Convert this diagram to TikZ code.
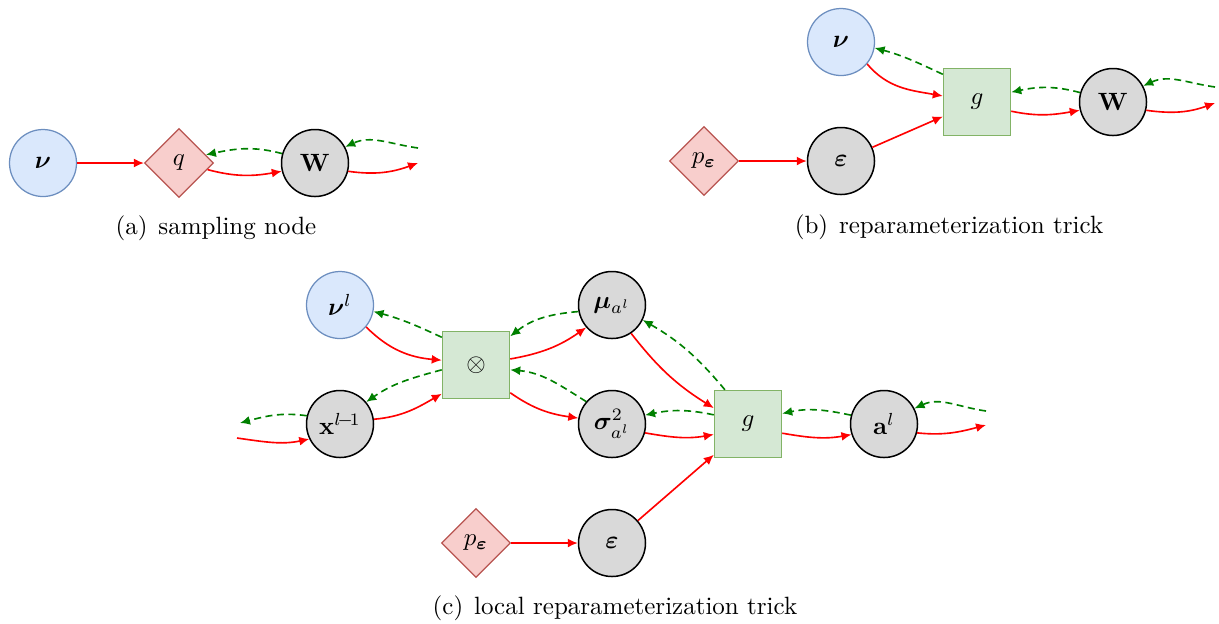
\documentclass[tikz,border=0pt]{standalone}
\usepackage{amsmath}
\usepackage{bm}
\usetikzlibrary{shapes.geometric,arrows.meta}
\definecolor{bfill}{HTML}{DAE8FC}
\definecolor{bdraw}{HTML}{6C8EBF}
\definecolor{rfill}{HTML}{F8CECC}
\definecolor{rdraw}{HTML}{B85450}
\definecolor{gfill}{HTML}{D5E8D4}
\definecolor{gdraw}{HTML}{82B366}
\definecolor{rvgrey}{HTML}{D9D9D9}
\definecolor{fwdred}{HTML}{FF0000}
\definecolor{bwdgreen}{HTML}{008000}
\begin{document}
\begin{tikzpicture}[x=0.4pt,y=0.4pt,
  param/.style={circle,draw=bdraw,fill=bfill,line width=0.5pt,minimum size=26.8pt,inner sep=0pt},
  rv/.style={circle,draw=black,fill=rvgrey,line width=0.6pt,minimum size=26.8pt,inner sep=0pt},
  dist/.style={diamond,aspect=1,draw=rdraw,fill=rfill,line width=0.5pt,minimum size=27.6pt,inner sep=0pt},
  op/.style={rectangle,draw=gdraw,fill=gfill,line width=0.6pt,minimum size=26.8pt,inner sep=0pt},
  fwd/.style={draw=fwdred,line width=0.65pt,-{Latex[length=4pt,width=3.6pt]}},
  bwd/.style={draw=bwdgreen,line width=0.65pt,dash pattern=on 2.8pt off 1.8pt,-{Latex[length=4pt,width=3.6pt]}},
  capt/.style={font=\normalsize}
]
\useasboundingbox (0,0) rectangle (1219,-623);

% ---------- (a) sampling node ----------
\node[param] (nu1) at (43,-163) {$\bm{\nu}$};
\node[dist]  (q1)  at (179,-163) {$q$};
\node[rv]    (W1)  at (315,-163) {$\mathbf{W}$};
\coordinate (fa1) at (418,-163);
\coordinate (fb1) at (418,-148);
\draw[fwd] (nu1) -- (q1);
\draw[fwd] (q1.-13) to[out=-15,in=190] (W1.194);
\draw[fwd] (W1.-14) to[out=-8,in=200] (fa1);
\draw[bwd] (W1.164) to[out=165,in=12] (q1.17);
\draw[bwd] (fb1) to[out=172,in=25] (W1.28);
\node[capt] (capa) at (216,-228) {(a)\ \kern1pt sampling node};

% ---------- (b) reparameterization trick ----------
\node[param] (nu2) at (841,-42) {$\bm{\nu}$};
\node[op]    (g2)  at (977,-102) {$g$};
\node[rv]    (W2)  at (1113,-102) {$\mathbf{W}$};
\node[dist]  (p2)  at (704,-161) {$p_{\bm{\varepsilon}}$};
\node[rv]    (e2)  at (841,-161) {$\bm{\varepsilon}$};
\coordinate (fa2) at (1215,-103);
\coordinate (fb2) at (1215,-87);
\draw[fwd] (p2) -- (e2);
\draw[fwd] (e2) -- (g2.203);
\draw[fwd] (nu2.-40) to[out=-50,in=170] (g2.170);
\draw[bwd] (g2.141) to[out=155,in=-15] (nu2.-10);
\draw[fwd] (g2.-15) to[out=-12,in=190] (W2.194);
\draw[bwd] (W2.164) to[out=165,in=12] (g2.16);
\draw[fwd] (W2.-14) to[out=-8,in=200] (fa2);
\draw[bwd] (fb2) to[out=172,in=25] (W2.28);
\node[capt] (capb) at (949,-227) {(b)\ \kern1pt reparameterization trick};

% ---------- (c) local reparameterization trick ----------
\node[param] (nu3) at (340,-305) {$\bm{\nu}^{l}$};
\node[op]    (ot)  at (476,-365) {$\otimes$};
\node[rv]    (mu)  at (612,-305) {$\bm{\mu}_{a^{l}}$};
\node[rv]    (x3)  at (340,-424) {$\mathbf{x}^{l\!-\!1}$};
\node[rv]    (sg)  at (612,-424) {$\bm{\sigma}^{2}_{a^{l}}$};
\node[op]    (g3)  at (748,-424) {$g$};
\node[rv]    (a3)  at (884,-424) {$\mathbf{a}^{l}$};
\node[dist]  (p3)  at (476,-543) {$p_{\bm{\varepsilon}}$};
\node[rv]    (e3)  at (612,-543) {$\bm{\varepsilon}$};
\coordinate (fa3) at (237,-438);
\coordinate (fb3) at (240,-423);
\coordinate (fc3) at (986,-425);
\coordinate (fd3) at (986,-411);

\draw[fwd] (fa3) to[out=-8,in=192] (x3.206);
\draw[bwd] (x3.166) to[out=172,in=15] (fb3);
\draw[fwd] (nu3.-40) to[out=-45,in=175] (ot.172);
\draw[bwd] (ot.141) to[out=155,in=-15] (nu3.-11);
\draw[fwd] (x3.8) to[out=5,in=210] (ot.220);
\draw[bwd] (ot.188) to[out=195,in=35] (x3.40);
\draw[fwd] (ot.10) to[out=10,in=215] (mu.221);
\draw[bwd] (mu.191) to[out=185,in=38] (ot.40);
\draw[fwd] (ot.-39) to[out=-35,in=172] (sg.170);
\draw[bwd] (sg.139) to[out=148,in=-5] (ot.-8);
\draw[fwd] (mu.-56) to[out=-52,in=148] (g3.155);
\draw[bwd] (g3.124) to[out=130,in=-30] (mu.-26);
\draw[fwd] (sg.-15) to[out=-10,in=190] (g3.197);
\draw[bwd] (g3.165) to[out=168,in=12] (sg.15);
\draw[fwd] (g3.-15) to[out=-10,in=190] (a3.198);
\draw[bwd] (a3.165) to[out=168,in=12] (g3.17);
\draw[fwd] (a3.-15) to[out=-6,in=195] (fc3);
\draw[bwd] (fd3) to[out=172,in=25] (a3.27);
\draw[fwd] (p3) -- (e3);
\draw[fwd] (e3) -- (g3.222);
\node[capt] (capc) at (615,-608) {(c)\ \kern1pt local reparameterization trick};
\end{tikzpicture}
\end{document}
